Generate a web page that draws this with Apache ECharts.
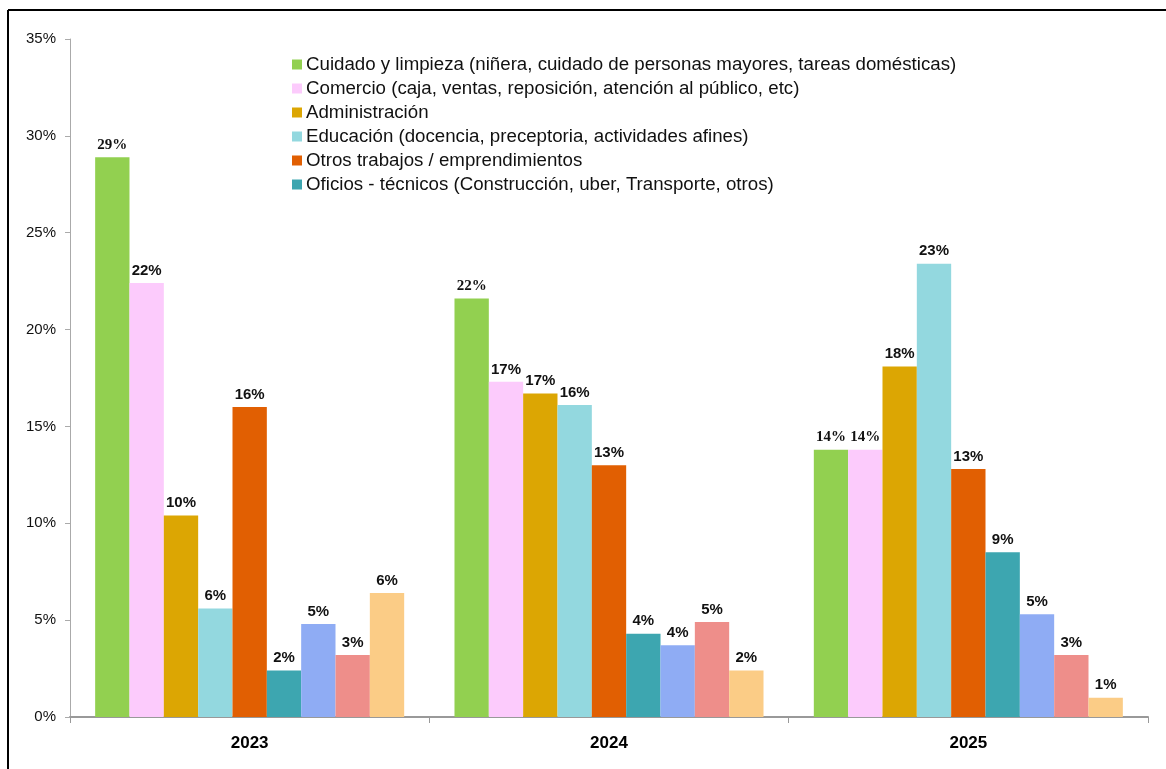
<!DOCTYPE html>
<html>
<head>
<meta charset="utf-8">
<script src="https://cdn.jsdelivr.net/npm/echarts@6/dist/echarts.min.js"></script>
<style>
  html, body { margin: 0; padding: 0; background: #fff; }
  #chart { width: 1166px; height: 769px; }
</style>
</head>
<body>
<div id="chart"></div>
<script>
  // categories and series values (percent)
  const years = ['2023', '2024', '2025'];
  const seriesNames = [
    'Cuidado y limpieza (niñera, cuidado de personas mayores, tareas domésticas)',
    'Comercio (caja, ventas, reposición, atención al público, etc)',
    'Administración',
    'Educación (docencia, preceptoria, actividades afines)',
    'Otros trabajos / emprendimientos',
    'Oficios - técnicos (Construcción, uber, Transporte, otros)',
    'Serie 7',
    'Serie 8',
    'Serie 9'
  ];
  const legendNames = seriesNames.slice(0, 6);
  const cuidado = [28.9, 21.6, 13.8];
  const comercio = [22.4, 17.3, 13.8];
  const administracion = [10.4, 16.7, 18.1];
  const educacion = [5.6, 16.1, 23.4];
  const otros = [16.0, 13.0, 12.8];
  const oficios = [2.4, 4.3, 8.5];
  const serie7 = [4.8, 3.7, 5.3];
  const serie8 = [3.2, 4.9, 3.2];
  const serie9 = [6.4, 2.4, 1.0];
  const yTicks = [0, 5, 10, 15, 20, 25, 30, 35];

  const values = [cuidado, comercio, administracion, educacion, otros, oficios, serie7, serie8, serie9];
  const colors = ['#92D050', '#FCCBFC', '#DCA603', '#93D8DF', '#E15F02', '#3DA6B0', '#8FACF4', '#EE8E8A', '#FBCC86'];

  const labelSans = { fontFamily: 'Liberation Sans, Arial', fontWeight: 'bold', fontSize: 15, color: '#111' };
  const labelSerif = { fontFamily: 'Liberation Serif, Times New Roman', fontWeight: 'bold', fontSize: 15, color: '#111' };

  let chart = echarts.init(document.getElementById('chart'));

  const series = values.map(function (arr, i) {
    return {
      name: seriesNames[i],
      type: 'bar',
      barGap: '0%',
      barCategoryGap: '14%',
      itemStyle: { color: colors[i] },
      label: Object.assign({
        show: true,
        position: 'top',
        distance: 5,
        formatter: function (p) { return Math.round(p.value) + '%'; }
      }, labelSans),
      data: arr.map(function (v, j) {
        // green labels and 2025 pink label use a serif face in the source
        if (i === 0 || (i === 1 && j === 2)) {
          return { value: v, label: labelSerif };
        }
        return v;
      })
    };
  });

  chart.setOption({
    backgroundColor: '#fff',
    animation: false,
    grid: { left: 70, right: 18, top: 39, bottom: 52, containLabel: false },
    legend: {
      data: legendNames,
      orient: 'vertical',
      left: 287,
      top: 50,
      icon: 'rect',
      itemWidth: 10,
      itemHeight: 10,
      itemGap: 5,
      textStyle: { fontFamily: 'Liberation Sans, Arial', fontSize: 18.7, color: '#111', padding: [0, 0, 0, -1] }
    },
    xAxis: {
      type: 'category',
      data: years,
      axisLine: { lineStyle: { color: '#999', width: 2 } },
      axisTick: { show: true, length: 6, lineStyle: { color: '#999' } },
      axisLabel: { margin: 18, fontFamily: 'Liberation Sans, Arial', fontWeight: 'bold', fontSize: 17, color: '#000' }
    },
    yAxis: {
      type: 'value',
      min: yTicks[0],
      max: yTicks[yTicks.length - 1],
      interval: 5,
      axisLine: { show: true, lineStyle: { color: '#aaa' } },
      axisTick: { show: true, inside: false, length: 5, lineStyle: { color: '#aaa' } },
      splitLine: { show: false },
      axisLabel: {
        margin: 14,
        fontFamily: 'Liberation Sans, Arial',
        fontSize: 15,
        color: '#111',
        formatter: function (v) { return v + '%'; }
      }
    },
    graphic: [
      { type: 'line', shape: { x1: 8, y1: 10, x2: 1166, y2: 10 }, style: { stroke: '#000', lineWidth: 2 } },
      { type: 'line', shape: { x1: 8, y1: 10, x2: 8, y2: 769 }, style: { stroke: '#000', lineWidth: 2 } }
    ],
    series: series
  });
</script>
</body>
</html>
